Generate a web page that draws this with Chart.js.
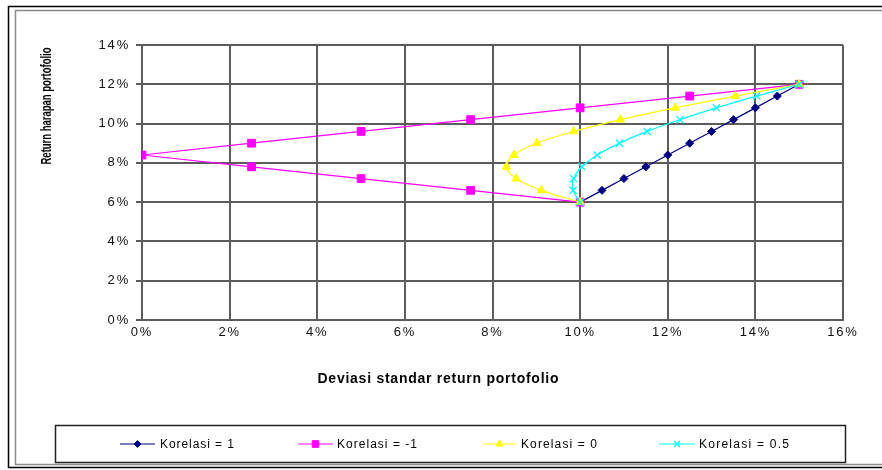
<!DOCTYPE html>
<html><head><meta charset="utf-8">
<script src="https://cdn.jsdelivr.net/npm/chart.js@4/dist/chart.umd.min.js"></script>
<style>html,body{margin:0;padding:0;background:#fff;overflow:hidden}#wrap{width:882px;height:470px;position:relative}</style>
</head><body><div id="wrap"><canvas id="c" width="882" height="470"></canvas></div>
<script>
// ---- data (values in percent) ----
const seriesNames = ['Korelasi = 1', 'Korelasi = -1', 'Korelasi = 0', 'Korelasi = 0.5'];
const returns   = [6, 6.6, 7.2, 7.8, 8.4, 9, 9.6, 10.2, 10.8, 11.4, 12];
const sdCorr1   = [10, 10.5, 11, 11.5, 12, 12.5, 13, 13.5, 14, 14.5, 15];
const sdCorrM1  = [10, 7.5, 5, 2.5, 0, 2.5, 5, 7.5, 10, 12.5, 15];
const sdCorr0   = [10, 9.12, 8.54, 8.32, 8.49, 9.01, 9.85, 10.92, 12.17, 13.54, 15];
const sdCorr05  = [10, 9.84, 9.85, 10.04, 10.39, 10.9, 11.53, 12.28, 13.11, 14.03, 15];
const xTicks = [0, 2, 4, 6, 8, 10, 12, 14, 16];
const yTicks = [0, 2, 4, 6, 8, 10, 12, 14];
const xTitle = 'Deviasi standar return portofolio';
const yTitle = 'Return harapan portofolio';

const lineColors  = ['#000080', '#FF00FF', '#FFFF00', '#00FFFF'];
const markColors  = ['#000080', '#FF00FF', '#FFFF00', '#00FFFF'];
const markStyles  = ['rectRot', 'rect', 'triangle', 'crossRot'];
const markRadius  = [4, 5.5, 4.8, 5];
const tensions    = [0, 0, 0.4, 0.4];
const sdSeries    = [sdCorr1, sdCorrM1, sdCorr0, sdCorr05];

const pts = sd => sd.map((s, i) => ({x: s, y: returns[i]}));

const datasets = sdSeries.map((sd, i) => ({
  label: seriesNames[i],
  data: pts(sd),
  showLine: true,
  borderColor: lineColors[i],
  borderWidth: 1.2,
  backgroundColor: markColors[i],
  pointStyle: markStyles[i],
  pointRadius: markRadius[i],
  pointHoverRadius: markRadius[i],
  pointBorderColor: markColors[i],
  pointBackgroundColor: markColors[i],
  pointBorderWidth: markStyles[i] === 'crossRot' ? 1.3 : 1,
  tension: tensions[i],
  order: 4 - i
}));

function spacedText(ctx, text, x, y, target, align) {
  ctx.letterSpacing = '0px';
  const nat = ctx.measureText(text).width;
  const sp = Math.max(-0.6, (target - nat) / (text.length - 1));
  ctx.letterSpacing = sp + 'px';
  const w = nat + sp * (text.length - 1);
  let sx = x;
  if (align === 'center') sx = x - w / 2;
  ctx.textAlign = 'left';
  ctx.fillText(text, sx, y);
  ctx.letterSpacing = '0px';
}

const framePlugin = {
  id: 'frame',
  beforeDraw(chart) {
    const ctx = chart.ctx;
    ctx.save();
    ctx.fillStyle = '#fff';
    ctx.fillRect(0, 0, 882, 470);
    ctx.strokeStyle = '#000';
    ctx.lineWidth = 1.5;
    ctx.strokeRect(8.5, 6.5, 900, 461);
    ctx.strokeStyle = '#8a8a8a';
    ctx.lineWidth = 1.5;
    ctx.strokeRect(15.5, 10.5, 900, 454);
    ctx.restore();
    ctx.letterSpacing = '1.8px';
  },
  afterDraw(chart) {
    const ctx = chart.ctx;
    ctx.save();
    ctx.letterSpacing = '0px';
    ctx.fillStyle = '#000';
    ctx.textBaseline = 'middle';
    // x title
    ctx.font = 'bold 14px "Liberation Sans", Arial, sans-serif';
    spacedText(ctx, xTitle, 438, 379, 241, 'center');
    // y title (condensed)
    ctx.save();
    ctx.translate(47, 106);
    ctx.rotate(-Math.PI / 2);
    ctx.font = 'bold 14px "Liberation Sans Narrow", "Liberation Sans", Arial, sans-serif';
    const nat = ctx.measureText(yTitle).width;
    ctx.scale(117 / nat, 1);
    ctx.textAlign = 'center';
    ctx.fillText(yTitle, 0, 0);
    ctx.restore();
    // legend box
    ctx.strokeStyle = '#222';
    ctx.lineWidth = 1.5;
    ctx.strokeRect(55.5, 425.5, 790, 37);
    const ly = 444;
    const lineX = [[120, 155], [298, 333], [483, 516], [659, 695]];
    const textX = [160, 337, 521, 699];
    const textW = [74, 80, 76, 90];
    ctx.font = '12px "Liberation Sans", Arial, sans-serif';
    chart.data.datasets.forEach((ds, i) => {
      ctx.strokeStyle = ds.borderColor;
      ctx.lineWidth = 1.2;
      ctx.beginPath();
      ctx.moveTo(lineX[i][0], ly);
      ctx.lineTo(lineX[i][1], ly);
      ctx.stroke();
      ctx.fillStyle = ds.pointBackgroundColor;
      ctx.strokeStyle = ds.pointBorderColor;
      ctx.lineWidth = ds.pointBorderWidth;
      const mx = (lineX[i][0] + lineX[i][1]) / 2;
      Chart.helpers.drawPoint(ctx, {pointStyle: ds.pointStyle, radius: ds.pointRadius * 0.85, rotation: 0, borderWidth: ds.pointBorderWidth}, mx, ly);
      ctx.fillStyle = '#000';
      spacedText(ctx, ds.label, textX[i], ly + 1, textW[i], 'left');
    });
    ctx.restore();
  }
};

const gridColor = '#5c5c5c';
new Chart(document.getElementById('c'), {
  type: 'scatter',
  data: {datasets},
  options: {
    responsive: false,
    animation: false,
    events: [],
    layout: {padding: {left: 0, top: 45, right: 39, bottom: 0}},
    plugins: {legend: {display: false}, tooltip: {enabled: false}, title: {display: false}},
    scales: {
      x: {
        type: 'linear', min: 0, max: 16,
        afterBuildTicks: s => { s.ticks = xTicks.map(v => ({value: v})); },
        afterFit: s => { s.height = 150; },
        grid: {color: gridColor, lineWidth: 2, drawTicks: false},
        border: {color: gridColor, width: 2},
        ticks: {padding: 5, color: '#111', font: {family: '"Liberation Sans", Arial, sans-serif', size: 13}, callback: v => v + '%', maxRotation: 0, autoSkip: false}
      },
      y: {
        type: 'linear', min: 0, max: 14,
        afterBuildTicks: s => { s.ticks = yTicks.map(v => ({value: v})); },
        afterFit: s => { s.width = 142; },
        grid: {color: gridColor, lineWidth: 2, tickLength: 6},
        border: {color: gridColor, width: 2},
        ticks: {padding: 6, color: '#111', font: {family: '"Liberation Sans", Arial, sans-serif', size: 13}, callback: v => v + '%', autoSkip: false}
      }
    }
  },
  plugins: [framePlugin]
});
</script>
</body></html>
